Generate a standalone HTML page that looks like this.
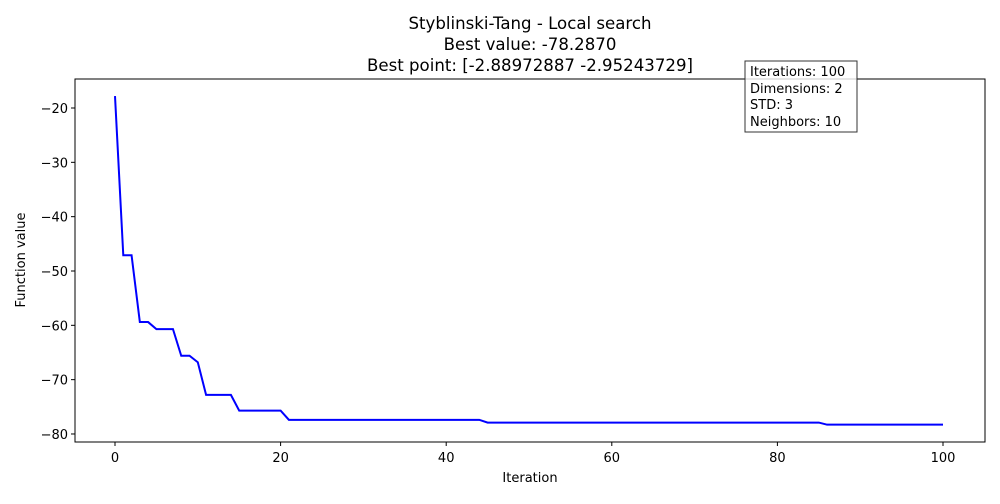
<!DOCTYPE html>
<html><head><meta charset="utf-8"><style>
body{margin:0;background:#fff;font-family:"DejaVu Sans","Liberation Sans",sans-serif}
</style></head><body>
<svg width="1000" height="500" xmlns="http://www.w3.org/2000/svg" font-family="DejaVu Sans, Liberation Sans, sans-serif">
<g font-size="16.6" text-anchor="middle" fill="#000">
<text x="530" y="29">Styblinski-Tang - Local search</text>
<text x="530" y="50">Best value: -78.2870</text>
<text x="530" y="71">Best point: [-2.88972887 -2.95243729]</text>
</g>
<g id="axes"></g>
<rect x="75" y="79" width="910" height="363" fill="none" stroke="#000" stroke-width="1"/>
<g>
<rect x="745" y="61" width="112" height="71" fill="#fff" fill-opacity="0.8" stroke="#333"/>
<g font-size="13" fill="#000">
<text x="750" y="76">Iterations: 100</text>
<text x="750" y="93">Dimensions: 2</text>
<text x="750" y="109">STD: 3</text>
<text x="750" y="126">Neighbors: 10</text>
</g></g>
<text x="530" y="482" font-size="13" text-anchor="middle">Iteration</text>
<text x="25" y="260" font-size="13" text-anchor="middle" transform="rotate(-90 25 260)">Function value</text>
</svg>
<script>
const xTicks=[0,20,40,60,80,100];
const yTicks=[-20,-30,-40,-50,-60,-70,-80];
const values=[-17.8,-47.1,-47.1,-59.4,-59.4,-60.7,-60.7,-60.7,-65.6,-65.6,-66.8,-72.8,-72.8,-72.8,-72.8,-75.7,-75.7,-75.7,-75.7,-75.7,-75.7,
-77.4,-77.4,-77.4,-77.4,-77.4,-77.4,-77.4,-77.4,-77.4,-77.4,-77.4,-77.4,-77.4,-77.4,-77.4,-77.4,-77.4,-77.4,-77.4,-77.4,-77.4,-77.4,-77.4,-77.4,
-77.9,-77.9,-77.9,-77.9,-77.9,-77.9,-77.9,-77.9,-77.9,-77.9,-77.9,-77.9,-77.9,-77.9,-77.9,-77.9,-77.9,-77.9,-77.9,-77.9,-77.9,-77.9,-77.9,-77.9,-77.9,-77.9,-77.9,-77.9,-77.9,-77.9,-77.9,-77.9,-77.9,-77.9,-77.9,-77.9,-77.9,-77.9,-77.9,-77.9,-77.9,
-78.287,-78.287,-78.287,-78.287,-78.287,-78.287,-78.287,-78.287,-78.287,-78.287,-78.287,-78.287,-78.287,-78.287,-78.287];
const NS="http://www.w3.org/2000/svg";
const xs=v=>115+v*8.28;
const ys=v=>108+(-20-v)*5.433;
const g=document.getElementById('axes');
function mk(t,a){const e=document.createElementNS(NS,t);for(const k in a)e.setAttribute(k,a[k]);g.appendChild(e);return e;}
xTicks.forEach(t=>{
 const l=mk('line',{x1:xs(t),x2:xs(t),y1:442,y2:446,stroke:'#000'});
 
 
 const tx=mk('text',{x:xs(t),y:462,'font-size':13,'text-anchor':'middle'});tx.textContent=t;
 
 
});
yTicks.forEach(t=>{
 const l=mk('line',{x1:71,x2:75,y1:ys(t),y2:ys(t),stroke:'#000'});
 
 
 const tx=mk('text',{x:68,y:ys(t)+5,'font-size':13,'text-anchor':'end'});tx.textContent='\u2212'+Math.abs(t);
 
 
});
const p=mk('polyline',{points:values.map((v,i)=>xs(i)+','+ys(v)).join(' '),fill:'none',stroke:'#0000ff','stroke-width':2});


</script>
</body></html>
